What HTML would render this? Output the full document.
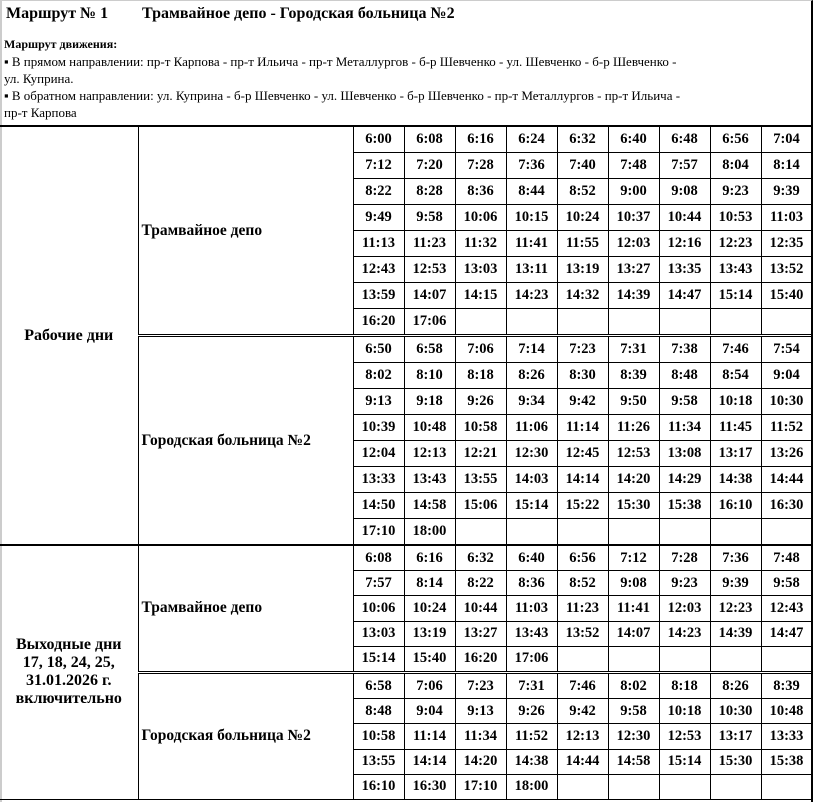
<!DOCTYPE html>
<html><head><meta charset="utf-8"><style>
body{margin:0;background:#fff;font-family:"Liberation Serif",serif;color:#000}
#wrap{position:absolute;left:0;top:0;width:813px;height:803px;overflow:hidden}
.frame{position:absolute;left:0;top:0;width:809px;height:801px;border-left:2px solid #ccc;border-top:1px solid #ccc;border-right:2px solid #000}
.t1{position:absolute;top:5px;left:6px;font-weight:bold;font-size:16px;white-space:nowrap}
.t2{position:absolute;top:5px;left:142px;font-weight:bold;font-size:16px;white-space:nowrap}
.hd{position:absolute;top:35px;left:4px;font-size:13px;line-height:17px;white-space:nowrap}
table{position:absolute;left:0;top:125px;border-collapse:collapse;table-layout:fixed;width:812px}
td{border:1px solid #000;padding:0;font-weight:bold;font-size:14.5px;text-align:center;height:25px;white-space:nowrap}
td.s{text-align:left;padding-left:3px;font-size:15.5px}
td.d{border-left:none;font-size:16px}
tr.top td{border-top:2px solid #000}
tr.dbl td.x{border-top:3px double #000}
tr.r3 td{height:24.2px}
tr.r4 td{height:24.2px}
</style></head><body><div id="wrap">
<div class="frame"></div>
<div class="t1">Маршрут № 1</div>
<div class="t2">Трамвайное депо - Городская больница №2</div>
<div class="hd"><b style="font-size:12px">Маршрут движения:</b><br>▪ В прямом направлении: пр-т Карпова - пр-т Ильича - пр-т Металлургов - б-р Шевченко - ул. Шевченко - б-р Шевченко -<br>ул. Куприна.<br>▪ В обратном направлении: ул. Куприна - б-р Шевченко - ул. Шевченко - б-р Шевченко - пр-т Металлургов - пр-т Ильича -<br>пр-т Карпова</div>
<table>
<colgroup><col style="width:138px"><col style="width:215px"><col span="9" style="width:51px"></colgroup>
<tr class="top"><td rowspan="16" class="d">Рабочие дни</td><td rowspan="8" class="s">Трамвайное депо</td><td>6:00</td><td>6:08</td><td>6:16</td><td>6:24</td><td>6:32</td><td>6:40</td><td>6:48</td><td>6:56</td><td>7:04</td></tr>
<tr><td>7:12</td><td>7:20</td><td>7:28</td><td>7:36</td><td>7:40</td><td>7:48</td><td>7:57</td><td>8:04</td><td>8:14</td></tr>
<tr><td>8:22</td><td>8:28</td><td>8:36</td><td>8:44</td><td>8:52</td><td>9:00</td><td>9:08</td><td>9:23</td><td>9:39</td></tr>
<tr><td>9:49</td><td>9:58</td><td>10:06</td><td>10:15</td><td>10:24</td><td>10:37</td><td>10:44</td><td>10:53</td><td>11:03</td></tr>
<tr><td>11:13</td><td>11:23</td><td>11:32</td><td>11:41</td><td>11:55</td><td>12:03</td><td>12:16</td><td>12:23</td><td>12:35</td></tr>
<tr><td>12:43</td><td>12:53</td><td>13:03</td><td>13:11</td><td>13:19</td><td>13:27</td><td>13:35</td><td>13:43</td><td>13:52</td></tr>
<tr><td>13:59</td><td>14:07</td><td>14:15</td><td>14:23</td><td>14:32</td><td>14:39</td><td>14:47</td><td>15:14</td><td>15:40</td></tr>
<tr><td>16:20</td><td>17:06</td><td></td><td></td><td></td><td></td><td></td><td></td><td></td></tr>
<tr class="dbl"><td rowspan="8" class="s x">Городская больница №2</td><td class="x">6:50</td><td class="x">6:58</td><td class="x">7:06</td><td class="x">7:14</td><td class="x">7:23</td><td class="x">7:31</td><td class="x">7:38</td><td class="x">7:46</td><td class="x">7:54</td></tr>
<tr><td>8:02</td><td>8:10</td><td>8:18</td><td>8:26</td><td>8:30</td><td>8:39</td><td>8:48</td><td>8:54</td><td>9:04</td></tr>
<tr><td>9:13</td><td>9:18</td><td>9:26</td><td>9:34</td><td>9:42</td><td>9:50</td><td>9:58</td><td>10:18</td><td>10:30</td></tr>
<tr><td>10:39</td><td>10:48</td><td>10:58</td><td>11:06</td><td>11:14</td><td>11:26</td><td>11:34</td><td>11:45</td><td>11:52</td></tr>
<tr><td>12:04</td><td>12:13</td><td>12:21</td><td>12:30</td><td>12:45</td><td>12:53</td><td>13:08</td><td>13:17</td><td>13:26</td></tr>
<tr><td>13:33</td><td>13:43</td><td>13:55</td><td>14:03</td><td>14:14</td><td>14:20</td><td>14:29</td><td>14:38</td><td>14:44</td></tr>
<tr><td>14:50</td><td>14:58</td><td>15:06</td><td>15:14</td><td>15:22</td><td>15:30</td><td>15:38</td><td>16:10</td><td>16:30</td></tr>
<tr><td>17:10</td><td>18:00</td><td></td><td></td><td></td><td></td><td></td><td></td><td></td></tr>
<tr class="top r3"><td rowspan="10" class="d">Выходные дни<br>17, 18, 24, 25,<br>31.01.2026 г.<br>включительно</td><td rowspan="5" class="s">Трамвайное депо</td><td>6:08</td><td>6:16</td><td>6:32</td><td>6:40</td><td>6:56</td><td>7:12</td><td>7:28</td><td>7:36</td><td>7:48</td></tr>
<tr class="r3"><td>7:57</td><td>8:14</td><td>8:22</td><td>8:36</td><td>8:52</td><td>9:08</td><td>9:23</td><td>9:39</td><td>9:58</td></tr>
<tr class="r3"><td>10:06</td><td>10:24</td><td>10:44</td><td>11:03</td><td>11:23</td><td>11:41</td><td>12:03</td><td>12:23</td><td>12:43</td></tr>
<tr class="r3"><td>13:03</td><td>13:19</td><td>13:27</td><td>13:43</td><td>13:52</td><td>14:07</td><td>14:23</td><td>14:39</td><td>14:47</td></tr>
<tr class="r3"><td>15:14</td><td>15:40</td><td>16:20</td><td>17:06</td><td></td><td></td><td></td><td></td><td></td></tr>
<tr class="dbl r4"><td rowspan="5" class="s x">Городская больница №2</td><td class="x">6:58</td><td class="x">7:06</td><td class="x">7:23</td><td class="x">7:31</td><td class="x">7:46</td><td class="x">8:02</td><td class="x">8:18</td><td class="x">8:26</td><td class="x">8:39</td></tr>
<tr class="r4"><td>8:48</td><td>9:04</td><td>9:13</td><td>9:26</td><td>9:42</td><td>9:58</td><td>10:18</td><td>10:30</td><td>10:48</td></tr>
<tr class="r4"><td>10:58</td><td>11:14</td><td>11:34</td><td>11:52</td><td>12:13</td><td>12:30</td><td>12:53</td><td>13:17</td><td>13:33</td></tr>
<tr class="r4"><td>13:55</td><td>14:14</td><td>14:20</td><td>14:38</td><td>14:44</td><td>14:58</td><td>15:14</td><td>15:30</td><td>15:38</td></tr>
<tr class="r4"><td>16:10</td><td>16:30</td><td>17:10</td><td>18:00</td><td></td><td></td><td></td><td></td><td></td></tr>
</table>
</div></body></html>
